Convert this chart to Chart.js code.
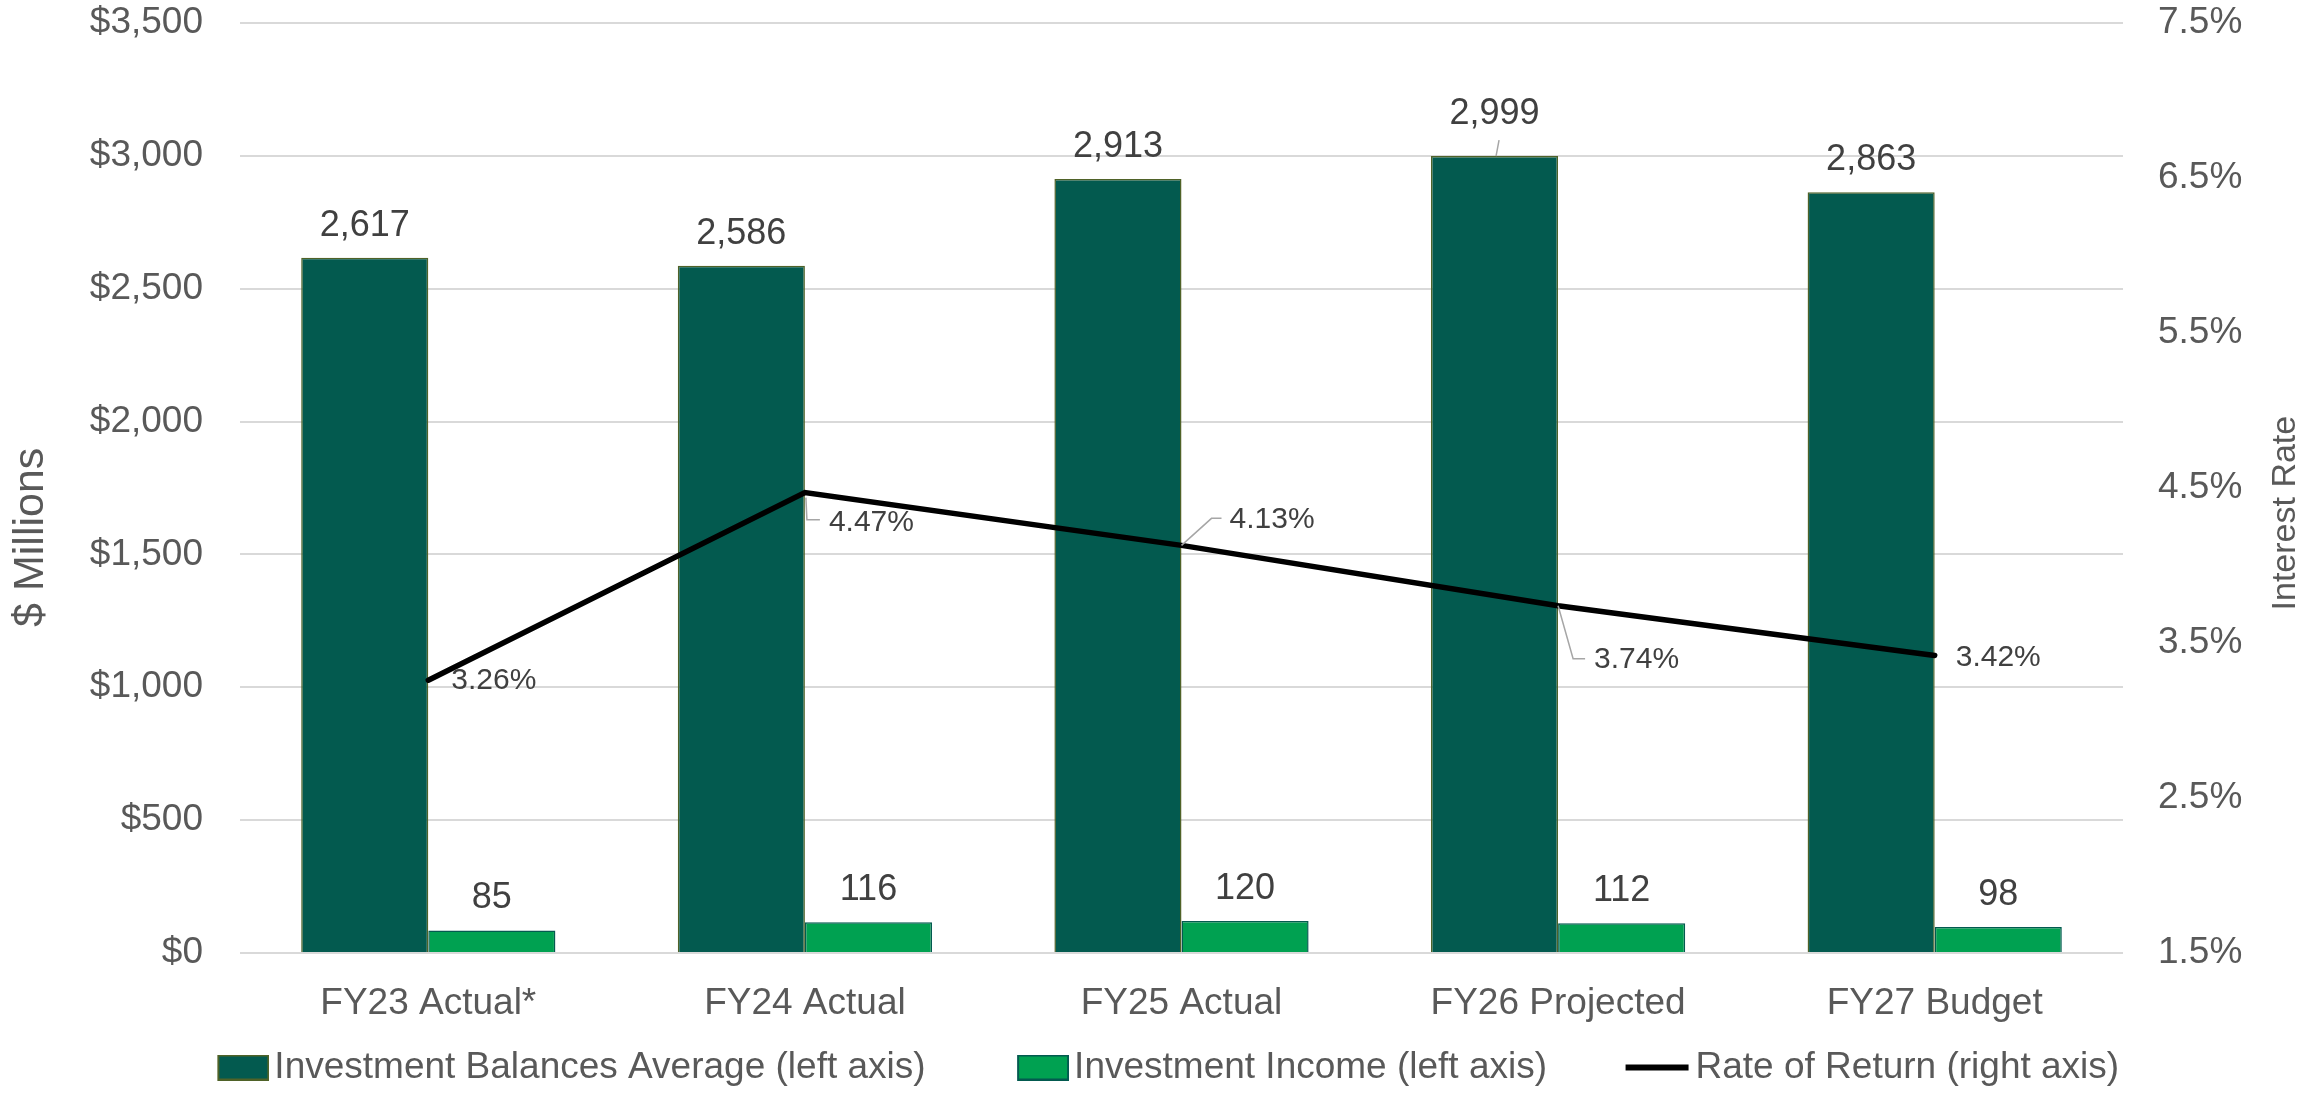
<!DOCTYPE html>
<html>
<head>
<meta charset="utf-8">
<script src="https://cdn.jsdelivr.net/npm/chart.js@4/dist/chart.umd.min.js"></script>
<style>
  html, body { margin: 0; padding: 0; background: #fff; }
  #wrap { width: 2323px; height: 1093px; }
</style>
</head>
<body>
<div id="wrap"><canvas id="investChart" width="2323" height="1093"></canvas></div>
<script>
const categories = ['FY23 Actual*', 'FY24 Actual', 'FY25 Actual', 'FY26 Projected', 'FY27 Budget'];
const balances = [2617, 2586, 2913, 2999, 2863];
const income = [85, 116, 120, 112, 98];
const rateOfReturn = [3.26, 4.47, 4.13, 3.74, 3.42];

const leftTicks = { min: 0, max: 3500, step: 500 };
const rightTicks = { min: 1.5, max: 7.5, step: 1 };

const FONT = '"Liberation Sans", Arial, sans-serif';
const GREY_TEXT = '#595959';
const LABEL_TEXT = '#404040';
const DARK_GREEN = '#035A4F';
const LIGHT_GREEN = '#00A151';

// where Excel put the rate labels, relative to the point (px)
const rateLabelSpots = [
    { dx: 23, dy: 1 },
    { dx: 24, dy: 30, leader: [[1, 5], [2, 27], [15, 27]] },
    { dx: 48, dy: -26, leader: [[0, 0], [30, -27], [40, -27]] },
    { dx: 36, dy: 54, leader: [[0, 0], [15, 53], [27, 53]] },
    { dx: 21, dy: 2 }
];

// legend swatches: Chart.js leaves a half-font gap before the text,
// so the swatch is drawn on the right side of a wider transparent image
function legendSwatch(fill, stroke, isLine) {
    const c = document.createElement('canvas');
    c.width = 79;
    c.height = 26;
    const g = c.getContext('2d');
    if (isLine) {
        g.strokeStyle = '#000000';
        g.lineWidth = 6;
        g.beginPath();
        g.moveTo(14, 13);
        g.lineTo(77, 13);
        g.stroke();
    } else {
        g.fillStyle = fill;
        g.fillRect(27, 0, 52, 26);
        g.strokeStyle = stroke;
        g.lineWidth = 2;
        g.strokeRect(28, 1, 50, 24);
    }
    return c;
}

function drawAxisTitle(ctx, text, x, y, size) {
    ctx.save();
    ctx.fillStyle = GREY_TEXT;
    ctx.font = size + 'px ' + FONT;
    ctx.textAlign = 'center';
    ctx.textBaseline = 'middle';
    ctx.translate(x, y);
    ctx.rotate(-Math.PI / 2);
    ctx.fillText(text, 0, 0);
    ctx.restore();
}

const labelsPlugin = {
    id: 'labelsPlugin',
    afterDatasetsDraw(chart) {
        const ctx = chart.ctx;
        ctx.save();
        ctx.fillStyle = LABEL_TEXT;
        ctx.strokeStyle = '#A6A6A6';
        ctx.lineWidth = 1.5;

        // bar values
        ctx.font = '36px ' + FONT;
        ctx.textAlign = 'center';
        ctx.textBaseline = 'middle';
        [0, 1].forEach(di => {
            chart.getDatasetMeta(di).data.forEach((bar, i) => {
                const v = chart.data.datasets[di].data[i];
                let lift = 32;
                if (di === 0 && i === 3) {
                    // this one got pushed up above the gridline, with a leader
                    lift = 42;
                    ctx.beginPath();
                    ctx.moveTo(bar.x + 1.5, bar.y);
                    ctx.lineTo(bar.x + 4.5, bar.y - 16);
                    ctx.stroke();
                }
                ctx.fillText(v.toLocaleString('en-US'), bar.x, bar.y - lift);
            });
        });

        // rate labels
        ctx.font = '30px ' + FONT;
        ctx.textAlign = 'left';
        chart.getDatasetMeta(2).data.forEach((pt, i) => {
            const spot = rateLabelSpots[i];
            if (spot.leader) {
                ctx.beginPath();
                spot.leader.forEach(([lx, ly], k) => {
                    if (k === 0) ctx.moveTo(pt.x + lx, pt.y + ly);
                    else ctx.lineTo(pt.x + lx, pt.y + ly);
                });
                ctx.stroke();
            }
            ctx.fillText(rateOfReturn[i].toFixed(2) + '%', pt.x + spot.dx, pt.y + spot.dy);
        });
        ctx.restore();
    },
    afterDraw(chart) {
        // axis titles, both read bottom-to-top like in Excel
        const area = chart.chartArea;
        const h = area.bottom - area.top;
        drawAxisTitle(chart.ctx, '$ Millions', 31, area.top + h * 0.553, 43);
        drawAxisTitle(chart.ctx, 'Interest Rate', chart.width - 37, area.top + h * 0.527, 34);
    }
};

const swatches = [
    legendSwatch(DARK_GREEN, '#4F6228', false),
    legendSwatch(LIGHT_GREEN, DARK_GREEN, false),
    legendSwatch(null, null, true)
];

const chart = new Chart(document.getElementById('investChart').getContext('2d'), {
    type: 'bar',
    data: {
        labels: categories,
        datasets: [
            {
                label: 'Investment Balances Average (left axis)',
                data: balances,
                backgroundColor: DARK_GREEN,
                borderColor: '#4F6228',
                borderWidth: 1.5,
                yAxisID: 'y',
                order: 1
            },
            {
                label: 'Investment Income (left axis)',
                data: income,
                backgroundColor: LIGHT_GREEN,
                borderColor: DARK_GREEN,
                borderWidth: 1.5,
                yAxisID: 'y',
                order: 2
            },
            {
                type: 'line',
                label: 'Rate of Return (right axis)',
                data: rateOfReturn,
                borderColor: '#000000',
                backgroundColor: '#000000',
                borderWidth: 5.5,
                borderCapStyle: 'round',
                pointRadius: 0,
                tension: 0,
                yAxisID: 'y1',
                order: 0
            }
        ]
    },
    options: {
        responsive: false,
        devicePixelRatio: 1,
        animation: false,
        datasets: {
            bar: { categoryPercentage: 0.675, barPercentage: 1.0 }
        },
        layout: { padding: { top: 0, left: 0, right: 0, bottom: -3 } },
        plugins: {
            tooltip: { enabled: false },
            legend: {
                position: 'bottom',
                labels: {
                    font: { family: FONT, size: 37 },
                    color: GREY_TEXT,
                    usePointStyle: true,
                    pointStyleWidth: 52,
                    boxHeight: 26,
                    padding: 78,
                    sort: (a, b) => a.datasetIndex - b.datasetIndex,
                    generateLabels(chart) {
                        const items = Chart.defaults.plugins.legend.labels.generateLabels(chart);
                        items.forEach(item => {
                            item.pointStyle = swatches[item.datasetIndex];
                        });
                        return items;
                    }
                }
            }
        },
        scales: {
            x: {
                grid: { display: false, drawTicks: false },
                border: { display: false },
                ticks: {
                    color: GREY_TEXT,
                    font: { family: FONT, size: 37 },
                    padding: 29,
                    maxRotation: 0
                },
                afterFit(scale) {
                    // keep the axis thin so the legend can sit where Excel had it;
                    // labels are allowed to spill below the axis box
                    scale.height = 18;
                    scale._computeLabelArea = () => null;
                }
            },
            y: {
                position: 'left',
                min: leftTicks.min,
                max: leftTicks.max,
                grid: { color: '#D9D9D9', lineWidth: 2, drawTicks: false },
                border: { display: false },
                ticks: {
                    stepSize: leftTicks.step,
                    color: GREY_TEXT,
                    font: { family: FONT, size: 37 },
                    padding: 37,
                    callback: v => '$' + v.toLocaleString('en-US')
                },
                afterFit(scale) {
                    scale.width = 240;
                    scale.paddingTop = 23;
                    scale.paddingBottom = 23;
                }
            },
            y1: {
                position: 'right',
                min: rightTicks.min,
                max: rightTicks.max,
                grid: { display: false, drawTicks: false },
                border: { display: false },
                ticks: {
                    stepSize: rightTicks.step,
                    color: GREY_TEXT,
                    font: { family: FONT, size: 37 },
                    padding: 35,
                    callback: v => v.toFixed(1) + '%'
                },
                afterFit(scale) {
                    scale.width = 200;
                    scale.paddingTop = 23;
                    scale.paddingBottom = 23;
                }
            }
        }
    },
    plugins: [labelsPlugin]
});
</script>
</body>
</html>
